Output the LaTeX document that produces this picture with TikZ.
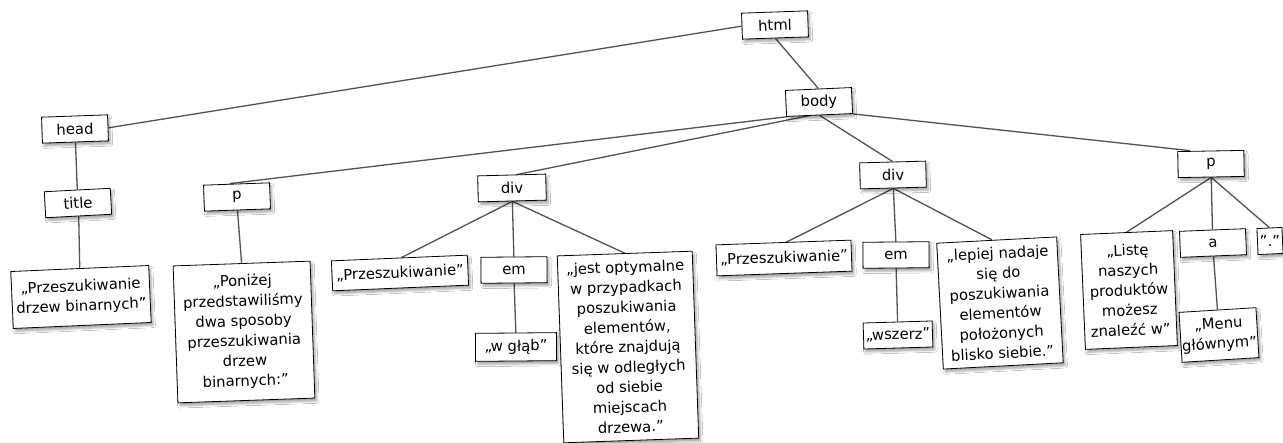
\documentclass[tikz,border=0pt]{standalone}
\usepackage{fontspec}
\setmainfont{DejaVu Sans}
\usetikzlibrary{shadows.blur}
\pgfdeclarelayer{bg}
\pgfsetlayers{bg,main}
\begin{document}
\begin{tikzpicture}[x=1pt,y=-1pt,
  box/.style={draw=black, line width=0.8pt, fill=white, align=center, inner sep=1pt,
    font=\fontsize{14.8}{20}\selectfont,
    blur shadow={shadow blur steps=6, shadow xshift=2pt, shadow yshift=-3pt, shadow opacity=35}},
  tag/.style={box, minimum width=66pt, minimum height=26pt},
  link/.style={draw=black!68, line width=1.3pt}]
\useasboundingbox (0,0) rectangle (1283,443);

\node[tag, rotate=2] (html) at (775,25) {html};
\node[tag, rotate=2.5] (body) at (819,102) {body};
\node[tag, rotate=2] (head) at (75,129) {head};
\node[tag, rotate=3] (title) at (78,203) {title};
\node[box, rotate=2.5, minimum width=138pt, minimum height=57pt] (t1) at (81,297) {„Przeszukiwanie\\drzew binarnych”};
\node[tag, rotate=2] (pL) at (237,197) {p};
\node[box, rotate=2, minimum width=137pt, minimum height=137pt] (t2) at (244,332) {„Poniżej\\przedstawiliśmy\\dwa sposoby\\przeszukiwania\\drzew\\binarnych:”};
\node[tag, rotate=1.5, minimum width=68pt] (div1) at (512,188) {div};
\node[box, rotate=2.4, minimum width=136pt, minimum height=30pt] (t3) at (400,273) {„Przeszukiwanie”};
\node[tag, rotate=0.5] (em1) at (514,270) {em};
\node[box, rotate=0.5, minimum width=81pt, minimum height=28pt] (t4) at (516,347) {„w głąb”};
\node[box, rotate=2, minimum width=135pt, minimum height=187pt] (t5) at (628,347) {„jest optymalne\\w przypadkach\\poszukiwania\\elementów,\\które znajdują\\się w odległych\\od siebie\\miejscach\\drzewa.”};
\node[tag, rotate=1.5] (div2) at (893,175) {div};
\node[box, rotate=2, minimum width=135pt, minimum height=31pt] (t6) at (784,258) {„Przeszukiwanie”};
\node[tag, rotate=0.5] (em2) at (896,255) {em};
\node[box, rotate=1.7, minimum width=69pt, minimum height=26pt] (t7) at (898,335) {„wszerz”};
\node[box, rotate=3, minimum width=120pt, minimum height=126pt] (t8) at (1000,303) {„lepiej nadaje\\się do\\poszukiwania\\elementów\\położonych\\blisko siebie.”};
\node[tag, rotate=1] (pR) at (1211,164) {p};
\node[box, rotate=2.4, minimum width=92pt, minimum height=115pt] (t9) at (1129,290) {„Listę\\naszych\\produktów\\możesz\\znaleźć w”};
\node[tag, rotate=2.3] (a) at (1213,243) {a};
\node[box, rotate=2.5, minimum width=25pt, minimum height=26pt, inner sep=0pt] (dot) at (1270,241) {"."};
\node[box, rotate=3.5, minimum width=72pt, minimum height=50pt] (t10) at (1219,335) {„Menu\\głównym”};

\begin{pgfonlayer}{bg}
\fill[white] (0,0) rectangle (1283,443);
\draw[link] (html.west) -- (head.east);
\draw[link] (html.south) -- (body.north);
\draw[link] (head.south) -- (title.north);
\draw[link] (title.south) -- (t1.north);
\draw[link] (body.south west) -- ([xshift=-7pt]pL.north);
\draw[link] ([xshift=-9pt]body.south) -- ([xshift=5pt]div1.north);
\draw[link] (body.south) -- (div2.north);
\draw[link] (body.south east) -- ([xshift=-21pt]pR.north);
\draw[link] (pL.south) -- (t2.north);
\draw[link] (div1.south) -- ([xshift=2pt]t3.north);
\draw[link] (div1.south) -- (em1.north);
\draw[link] (div1.south) -- (t5.north);
\draw[link] (em1.south) -- (t4.north);
\draw[link] (div2.south) -- ([xshift=3pt]t6.north);
\draw[link] (div2.south) -- (em2.north);
\draw[link] (div2.south) -- ([xshift=-5pt]t8.north);
\draw[link] (em2.south) -- (t7.north);
\draw[link] (pR.south) -- (t9.north);
\draw[link] (pR.south) -- (a.north);
\draw[link] (pR.south) -- (dot.north);
\draw[link] (a.south) -- (t10.north);
\end{pgfonlayer}
\end{tikzpicture}
\end{document}
